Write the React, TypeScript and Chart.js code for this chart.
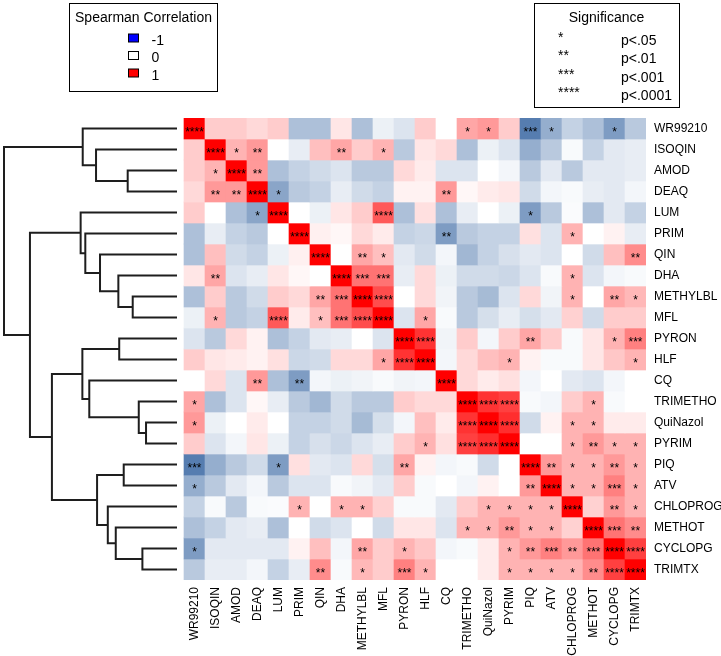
import React, { useEffect, useRef } from "react";
import { Chart, registerables } from "chart.js";

Chart.register(...registerables);

const FONT = '"Liberation Sans", Arial, Helvetica, sans-serif';

const labels = [
  "WR99210", "ISOQIN", "AMOD", "DEAQ", "LUM", "PRIM", "QIN", "DHA", "METHYLBL", "MFL", "PYRON",
  "HLF", "CQ", "TRIMETHO", "QuiNazol", "PYRIM", "PIQ", "ATV", "CHLOPROG", "METHOT", "CYCLOPG", "TRIMTX",
];

// Spearman correlation (rows/cols in the order of labels)
const correlation: number[][] = [
  [1, .2, .2, .15, .2, -.35, -.35, .1, -.35, -.08, -.15, .2, 0, .35, .4, .2, -.72, -.45, -.25, -.35, -.55, -.3],
  [.2, 1, .3, .4, 0, -.1, .25, .35, .2, .3, -.3, .1, .15, -.35, -.08, -.15, -.45, -.3, -.03, -.25, -.12, -.1],
  [.2, .3, 1, .4, -.35, -.25, -.2, -.15, -.3, -.3, .15, .08, -.15, -.15, 0, -.05, -.3, -.12, -.3, -.12, -.12, -.1],
  [.15, .4, .4, 1, -.5, -.3, -.25, -.1, -.2, -.25, .05, .05, .4, .03, .08, .1, -.2, -.05, -.03, -.1, -.12, -.05],
  [.2, 0, -.35, -.5, 1, 0, -.08, .1, .2, .65, -.35, .12, -.35, -.1, 0, -.08, -.55, -.3, -.02, -.35, -.12, -.25],
  [-.35, -.1, -.25, -.3, 0, 1, .06, .03, .15, .08, -.25, -.22, -.55, -.3, -.25, -.25, .12, -.15, .3, 0, .05, -.1],
  [-.35, .25, -.2, -.25, -.08, .06, 1, 0, .35, .25, -.12, -.2, -.05, -.4, -.25, -.17, -.12, -.15, 0, -.2, .25, .45],
  [.1, .35, -.15, -.1, .1, .03, 0, 1, .55, .55, -.1, .15, -.08, -.2, -.2, -.22, -.15, -.03, .3, -.15, -.05, -.03],
  [-.35, .2, -.3, -.2, .2, .15, .35, .55, 1, .7, 0, .15, -.06, -.3, -.38, -.15, .15, -.06, .3, 0, .35, .28],
  [-.08, .3, -.3, -.25, .65, .08, .25, .55, .7, 1, -.15, .35, -.03, -.3, -.18, -.1, -.18, -.12, .18, -.2, .2, .2],
  [-.15, -.3, .15, .05, -.35, -.25, -.12, -.1, 0, -.15, 1, .8, -.06, .2, -.05, .2, .35, .2, -.03, .1, .3, .5],
  [.2, .1, .08, .05, .12, -.22, -.2, .15, .15, .35, .8, 1, -.05, .15, .25, .3, .05, -.03, -.03, .1, .22, .3],
  [0, .15, -.15, .4, -.35, -.55, -.05, -.08, -.06, -.03, -.06, -.05, 1, .15, .08, .12, -.05, 0, -.12, -.15, -.05, 0],
  [.35, -.35, -.15, .03, -.1, -.3, -.4, -.2, -.3, -.3, .2, .15, .15, 1, .8, .75, -.03, -.05, .2, .3, -.03, 0],
  [.4, -.08, 0, .08, 0, -.25, -.25, -.2, -.38, -.18, -.05, .25, .08, .8, 1, .82, -.2, .05, .3, .3, .08, .08],
  [.2, -.15, -.05, .1, -.08, -.25, -.17, -.22, -.15, -.1, .2, .3, .12, .75, .82, 1, 0, 0, .3, .4, .3, .3],
  [-.72, -.45, -.3, -.2, -.55, .12, -.12, -.15, .15, -.18, .35, .05, -.05, -.03, -.2, 0, 1, .4, .3, .3, .4, .3],
  [-.45, -.3, -.12, -.05, -.3, -.15, -.15, -.03, -.06, -.12, .2, -.03, 0, -.05, .05, 0, .4, 1, .3, .3, .5, .3],
  [-.25, -.03, -.3, -.03, -.02, .3, 0, .3, .3, .18, -.03, -.03, -.12, .2, .3, .3, .3, .3, 1, .18, .4, .3],
  [-.35, -.25, -.12, -.1, -.35, 0, -.2, -.15, 0, -.2, .1, .1, -.15, .3, .3, .4, .3, .3, .18, 1, .55, .45],
  [-.55, -.12, -.12, -.12, -.12, .05, .25, -.05, .35, .2, .3, .22, -.05, -.03, .08, .3, .4, .5, .4, .55, 1, .75],
  [-.3, -.1, -.1, -.05, -.25, -.1, .45, -.03, .28, .2, .5, .3, 0, 0, .08, .3, .3, .3, .3, .45, .75, 1],
];

// number of significance stars per cell
const stars: number[][] = [
  [4,0,0,0,0,0,0,0,0,0,0,0,0,1,1,0,3,1,0,0,1,0],
  [0,4,1,2,0,0,0,2,0,1,0,0,0,0,0,0,0,0,0,0,0,0],
  [0,1,4,2,0,0,0,0,0,0,0,0,0,0,0,0,0,0,0,0,0,0],
  [0,2,2,4,1,0,0,0,0,0,0,0,2,0,0,0,0,0,0,0,0,0],
  [0,0,0,1,4,0,0,0,0,4,0,0,0,0,0,0,1,0,0,0,0,0],
  [0,0,0,0,0,4,0,0,0,0,0,0,2,0,0,0,0,0,1,0,0,0],
  [0,0,0,0,0,0,4,0,2,1,0,0,0,0,0,0,0,0,0,0,0,2],
  [0,2,0,0,0,0,0,4,3,3,0,0,0,0,0,0,0,0,1,0,0,0],
  [0,0,0,0,0,0,2,3,4,4,0,0,0,0,0,0,0,0,1,0,2,1],
  [0,1,0,0,4,0,1,3,4,4,0,1,0,0,0,0,0,0,0,0,0,0],
  [0,0,0,0,0,0,0,0,0,0,4,4,0,0,0,0,2,0,0,0,1,3],
  [0,0,0,0,0,0,0,0,0,1,4,4,0,0,0,1,0,0,0,0,0,1],
  [0,0,0,2,0,2,0,0,0,0,0,0,4,0,0,0,0,0,0,0,0,0],
  [1,0,0,0,0,0,0,0,0,0,0,0,0,4,4,4,0,0,0,1,0,0],
  [1,0,0,0,0,0,0,0,0,0,0,0,0,4,4,4,0,0,1,1,0,0],
  [0,0,0,0,0,0,0,0,0,0,0,1,0,4,4,4,0,0,1,2,1,1],
  [3,0,0,0,1,0,0,0,0,0,2,0,0,0,0,0,4,2,1,1,2,1],
  [1,0,0,0,0,0,0,0,0,0,0,0,0,0,0,0,2,4,1,1,3,1],
  [0,0,0,0,0,1,0,1,1,0,0,0,0,0,1,1,1,1,4,0,2,1],
  [0,0,0,0,0,0,0,0,0,0,0,0,0,1,1,2,1,1,0,4,3,2],
  [1,0,0,0,0,0,0,0,2,0,1,0,0,0,0,1,2,3,2,3,4,4],
  [0,0,0,0,0,0,2,0,1,0,3,1,0,0,0,1,1,1,1,2,4,4],
];

// Dendrogram (hclust style): negative = leaf -(index+1), positive = merge number (1-based)
const mergeLeft = [-15, -14, -21, -9, -3, -17, -11, -8, -20, -19, -7, 6, -2, -13, -6, -1, 7, -5, 17, 18, 16];
const mergeRight = [-16, 1, -22, -10, -4, -18, -12, 4, 3, 9, 8, 10, 5, 2, 11, 13, 14, 15, 12, 19, 20];
const mergeHeight = [0.179, 0.221, 0.2, 0.256, 0.285, 0.308, 0.334, 0.339, 0.354, 0.4, 0.445, 0.462, 0.468, 0.507, 0.53, 0.545, 0.547, 0.557, 0.723, 0.85, 1.0];

const legendValues = ["-1", "0", "1"];
const legendColors = ["#0000ff", "#ffffff", "#ff0000"];
const sigSymbols = ["*", "**", "***", "****"];
const sigLabels = ["p<.05", "p<.01", "p<.001", "p<.0001"];

function cellColor(v: number): string {
  if (v >= 0) {
    const g = Math.round(255 * (1 - v));
    return `rgb(255,${g},${g})`;
  }
  const t = -v;
  const r = Math.round(255 - t * (255 - 20));
  const g = Math.round(255 - t * (255 - 75));
  const b = Math.round(255 - t * (255 - 145));
  return `rgb(${r},${g},${b})`;
}

function nodePos(id: number): { x: number; y: number } {
  if (id < 0) return { x: 0, y: -id - 1 + 0.5 };
  const a = nodePos(mergeLeft[id - 1]);
  const b = nodePos(mergeRight[id - 1]);
  return { x: mergeHeight[id - 1], y: (a.y + b.y) / 2 };
}

const W = 721;
const H = 656;
const PAD_LEFT = 4;
const PAD_TOP = 118;
const Y_AXIS_W = 75;
const X_AXIS_H = 76;
const CELL = 21;
const HEAT_OFFSET = 180; // px from chart-area left to heatmap
const LEAF_OFFSET = 173; // px from chart-area left to leaf end of dendrogram

const starPlugin = {
  id: "stars",
  afterDatasetsDraw(chart: any) {
    const { ctx } = chart;
    const x = chart.scales.x;
    const y = chart.scales.y;
    ctx.save();
    ctx.fillStyle = "#000";
    ctx.font = `12px ${FONT}`;
    ctx.textAlign = "center";
    ctx.textBaseline = "alphabetic";
    stars.forEach((row, r) =>
      row.forEach((n, c) => {
        if (n > 0) ctx.fillText("*".repeat(n), x.getPixelForValue(c + 0.5), y.getPixelForValue(r + 0.5) + 7);
      })
    );
    ctx.restore();
  },
};

const legendPlugin = {
  id: "legends",
  afterDraw(chart: any) {
    const { ctx } = chart;
    ctx.save();
    ctx.strokeStyle = "#000";
    ctx.lineWidth = 1;
    ctx.fillStyle = "#000";
    ctx.font = `14px ${FONT}`;
    ctx.textBaseline = "alphabetic";
    // Spearman legend
    ctx.strokeRect(69.5, 3.5, 148, 88);
    ctx.textAlign = "center";
    ctx.fillText("Spearman Correlation", 143.5, 22);
    legendValues.forEach((lab, i) => {
      const by = 44.5 + i * 17.5;
      ctx.fillStyle = legendColors[i];
      ctx.fillRect(128.5, by - 10.5, 10, 8);
      ctx.strokeRect(128.5, by - 10.5, 10, 8);
      ctx.fillStyle = "#000";
      ctx.textAlign = "left";
      ctx.fillText(lab, 151.5, by);
    });
    // Significance legend
    ctx.strokeRect(534.5, 3.5, 145, 104);
    ctx.textAlign = "center";
    ctx.fillText("Significance", 606.5, 22);
    sigSymbols.forEach((s, i) => {
      const by = 41.5 + i * 18.5;
      ctx.textAlign = "left";
      ctx.fillText(s, 558, by);
      ctx.fillText(sigLabels[i], 621, by + 3);
    });
    ctx.restore();
  },
};

export default function App() {
  const ref = useRef<HTMLCanvasElement>(null);
  useEffect(() => {
    const areaW = W - PAD_LEFT - Y_AXIS_W;
    const xMin = -HEAT_OFFSET / CELL;
    const xMax = xMin + areaW / CELL;
    const xdMin = 1 - areaW / LEAF_OFFSET;

    const barSets = correlation.map((row, r) => ({
      type: "bar" as const,
      label: labels[r],
      data: row.map((_, c) => ({ x: c + 0.5, y: [r, r + 1] })),
      backgroundColor: row.map((v) => cellColor(v)),
      borderWidth: 0,
      grouped: false,
      barPercentage: 1,
      categoryPercentage: 1,
      xAxisID: "x",
      yAxisID: "y",
    }));

    const lineSets = mergeHeight.map((h, k) => {
      const a = nodePos(mergeLeft[k]);
      const b = nodePos(mergeRight[k]);
      return {
        type: "line" as const,
        label: "m" + (k + 1),
        data: [
          { x: a.x, y: a.y },
          { x: h, y: a.y },
          { x: h, y: b.y },
          { x: b.x, y: b.y },
        ],
        borderColor: "#1e1e1e",
        borderWidth: 2,
        pointRadius: 0,
        fill: false,
        tension: 0,
        clip: false as any,
        xAxisID: "xd",
        yAxisID: "y",
      };
    });

    const chart = new Chart(ref.current as HTMLCanvasElement, {
      type: "bar",
      data: { datasets: [...barSets, ...lineSets] as any },
      options: {
        responsive: false,
        devicePixelRatio: 1,
        animation: false,
        events: [],
        layout: { padding: { left: PAD_LEFT, top: PAD_TOP, right: 0, bottom: 0 } },
        plugins: { legend: { display: false }, tooltip: { enabled: false } },
        scales: {
          x: {
            type: "linear",
            position: "bottom",
            min: xMin,
            max: xMax,
            offset: false,
            bounds: "data",
            grid: { display: false, drawTicks: false },
            border: { display: false },
            afterBuildTicks: (s: any) => {
              s.ticks = labels.map((_, i) => ({ value: i + 0.5 }));
            },
            afterFit: (s: any) => {
              s.height = X_AXIS_H;
            },
            ticks: {
              autoSkip: false,
              minRotation: 90,
              maxRotation: 90,
              padding: 7,
              color: "#000",
              font: { family: FONT, size: 12 },
              callback: (_v: any, i: number) => labels[i],
            },
          },
          xd: {
            type: "linear",
            display: false,
            reverse: true,
            min: xdMin,
            max: 1,
            offset: false,
          },
          y: {
            type: "linear",
            position: "right",
            min: 0,
            max: labels.length,
            reverse: true,
            bounds: "data",
            grid: { display: false, drawTicks: false },
            border: { display: false },
            afterBuildTicks: (s: any) => {
              s.ticks = labels.map((_, i) => ({ value: i + 0.5 }));
            },
            afterFit: (s: any) => {
              s.width = Y_AXIS_W;
            },
            ticks: {
              autoSkip: false,
              padding: 8,
              color: "#000",
              font: { family: FONT, size: 12 },
              callback: (_v: any, i: number) => labels[i],
            },
          },
        },
      } as any,
      plugins: [starPlugin, legendPlugin],
    });
    return () => chart.destroy();
  }, []);

  return (
    <div style={{ position: "fixed", left: 0, top: 0, width: W, height: H, background: "#fff" }}>
      <canvas ref={ref} width={W} height={H} style={{ width: W, height: H, display: "block" }} />
    </div>
  );
}
